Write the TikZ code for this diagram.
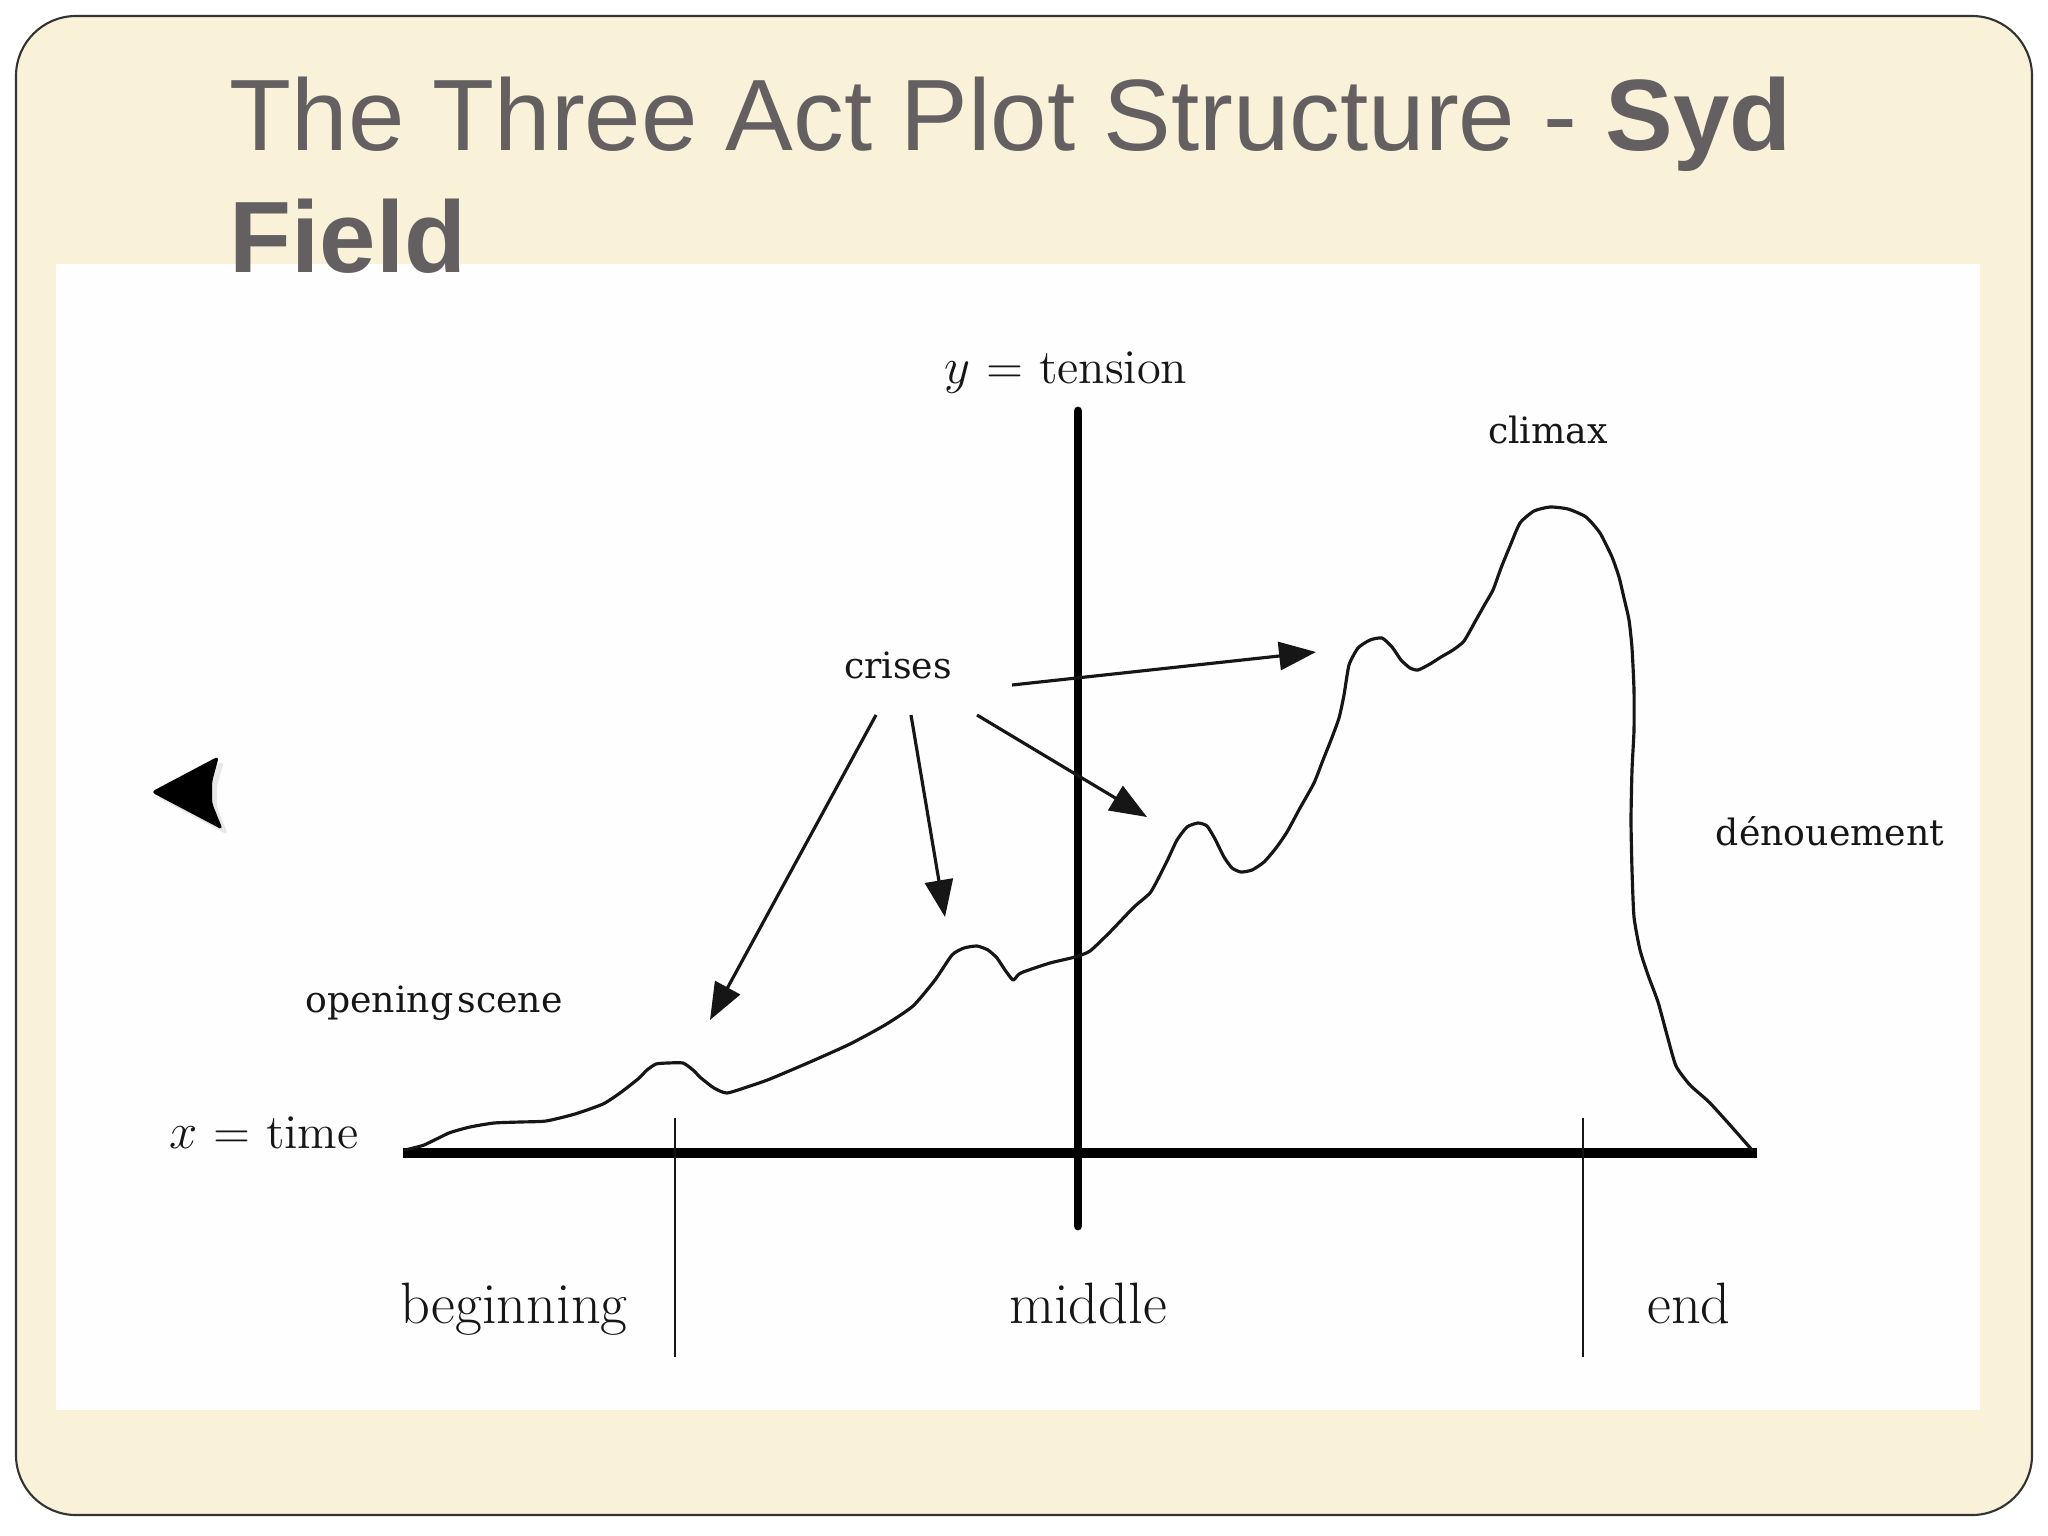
\documentclass[tikz,border=0pt]{standalone}
\usepackage{fontspec}
\newfontfamily\titlefont{Liberation Sans}
\newfontfamily\smallfont{DejaVu Serif}
\usetikzlibrary{arrows.meta}
\definecolor{parch}{RGB}{249,241,216}
\definecolor{titlegray}{RGB}{100,96,97}
\definecolor{ink}{RGB}{22,22,22}
\tikzset{
  titletext/.style={anchor=base west, inner sep=0pt, text=titlegray, font=\titlefont\fontsize{28.85}{34}\selectfont},
  biglabel/.style={anchor=base, inner sep=0pt, text=ink, font=\fontsize{16.6}{19}\selectfont},
  axislabel/.style={anchor=base, inner sep=0pt, text=ink, font=\fontsize{13.8}{16}\selectfont},
  smalllabel/.style={anchor=base, inner sep=0pt, text=ink, font=\smallfont\fontsize{10.3}{12}\selectfont},
  crisisarrow/.style={-{Triangle[length=10.5pt,width=8pt]}, line width=0.9pt, draw=ink},
  axisline/.style={line width=2.5pt, draw=black},
  tickline/.style={line width=0.75pt, draw=ink},
  plotcurve/.style={line width=0.9pt, draw=ink, line join=round, line cap=round},
  navarrow/.style={rounded corners=1.2pt, line join=round}
}
\begin{document}
\begin{tikzpicture}[x=0.01cm,y=-0.01cm]
\useasboundingbox (0,0) rectangle (2048,1536);
\fill[white] (0,0) rectangle (2048,1536);
% slide background
\draw[fill=parch, draw=black!80, line width=0.6pt, rounded corners=0.6cm] (16,16) rectangle (2032,1515);
% white panel
\fill[white!99.5!black] (56,264) rectangle (1980,1410);
% title
\node[titletext] (title) at (229,150) {The Three Act Plot Structure - \textbf{Syd}};
\node[titletext] (titleb) at (229,272) {\textbf{Field}};
% navigation arrow
\fill[navarrow, black!30, opacity=0.3] (157,797) -- (224,761) -- (217,786) -- (217,807) -- (228,835) -- cycle;
\fill[navarrow, black] (151,792) -- (219,756) -- (212,782) -- (212,803) -- (223,830) -- cycle;
% axes
\coordinate (yaxtop) at (1078,411);
\coordinate (yaxbot) at (1078,1226);
\coordinate (xaxl) at (403,1153);
\coordinate (xaxr) at (1757,1153);
\draw[axisline, line cap=round] (yaxtop) -- (yaxbot);
\draw[axisline, line width=2.7pt] (xaxl) -- (xaxr);
\coordinate (t1top) at (675,1118);
\coordinate (t1bot) at (675,1357);
\coordinate (t2top) at (1583,1118);
\coordinate (t2bot) at (1583,1357);
\draw[tickline] (t1top) -- (t1bot);
\draw[tickline] (t2top) -- (t2bot);
% tension curve
\draw[plotcurve] plot[smooth, tension=0.35] coordinates {
(405,1150) (424,1145) (449,1133) (470,1127) (494,1123) (520,1122) (546,1121)
(575,1114) (603,1104) (620,1093) (638,1079) (647,1070) (656,1064) (668,1063) (683,1063)
(693,1070) (701,1078) (714,1088) (727,1093) (750,1086) (770,1079) (810,1062) (850,1044)
(885,1025) (913,1006) (935,980) (952,955) (964,948) (977,946) (988,950) (997,958)
(1005,970) (1013,980) (1018,975) (1023,972) (1050,963) (1075,957) (1090,951)
(1110,932) (1134,907) (1150,893) (1159,877) (1168,859) (1177,840) (1187,827)
(1198,823) (1207,826) (1215,839) (1224,857) (1232,868) (1241,872) (1252,870)
(1264,862) (1276,848) (1287,832) (1300,808) (1314,783) (1323,760) (1331,740)
(1339,718) (1344,695) (1349,665) (1358,648) (1370,640) (1382,638) (1392,647)
(1401,660) (1410,668) (1418,670) (1430,664) (1441,657) (1453,650) (1464,641)
(1476,620) (1485,604) (1493,590) (1501,568) (1510,546) (1520,523) (1534,511)
(1550,507) (1568,509) (1586,517) (1600,533) (1612,557) (1619,577) (1624,598)
(1629,620) (1632,648) (1634,690) (1634,730) (1632,770) (1631,820) (1632,870)
(1634,917) (1640,950) (1648,975) (1658,1002) (1667,1035) (1676,1066)
(1690,1085) (1709,1102) (1730,1125) (1752,1150)};
% labels
\node[axislabel] (ytension) at (1066,383) {$y$ = tension};
\node[axislabel] (xtime) at (264,1148) {$x$ = time};
\node[smalllabel] (climax) at (1548,443) {climax};
\node[smalllabel] (crises) at (898,678) {crises};
\node[smalllabel] (denouement) at (1830,845) {dénouement};
\node[smalllabel] (opening) at (434,1012) {opening\hspace{0.12em}scene};
\node[biglabel] (beginning) at (514,1323) {beginning};
\node[biglabel] (middle) at (1088,1323) {middle};
\node[biglabel] (endlabel) at (1689,1323) {end};
% crisis arrows
\coordinate (a1s) at (876,715);
\coordinate (a1e) at (710,1020);
\coordinate (a2s) at (911,715);
\coordinate (a2e) at (945,917);
\coordinate (a3s) at (977,715);
\coordinate (a3e) at (1147,817);
\coordinate (a4s) at (1012,685);
\coordinate (a4e) at (1316,652);
\draw[crisisarrow] (a1s) -- (a1e);
\draw[crisisarrow] (a2s) -- (a2e);
\draw[crisisarrow] (a3s) -- (a3e);
\draw[crisisarrow] (a4s) -- (a4e);
\end{tikzpicture}
\end{document}
